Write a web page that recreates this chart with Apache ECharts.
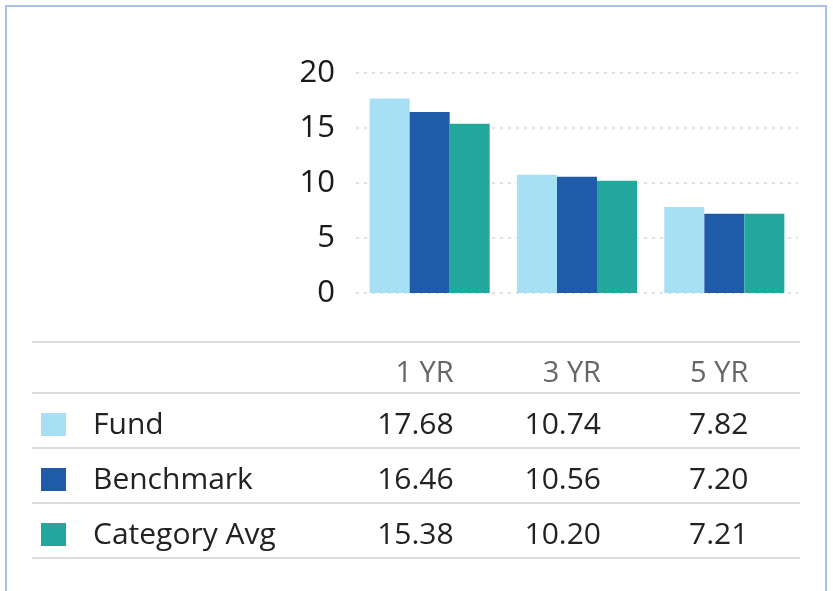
<!DOCTYPE html>
<html><head><meta charset="utf-8">
<script src="https://cdn.jsdelivr.net/npm/echarts@6/dist/echarts.min.js"></script>
<style>html,body{margin:0;padding:0;background:#fff}#c{width:833px;height:591px}</style>
</head><body><div id="c"></div>
<script>
const categories = ['1 YR', '3 YR', '5 YR'];
const seriesNames = ['Fund', 'Benchmark', 'Category Avg'];
const fund = [17.68, 10.74, 7.82];
const benchmark = [16.46, 10.56, 7.20];
const categoryAvg = [15.38, 10.20, 7.21];
const yTicks = [0, 5, 10, 15, 20];
const colors = ['#a7dff5', '#1f5ba8', '#23a79d'];
const FONT = '"Open Sans", sans-serif';

const chart = echarts.init(document.getElementById('c'), null, {renderer: 'canvas'});
const allSeries = [fund, benchmark, categoryAvg];
chart.setOption({
  animation: false,
  grid: {left: 356, right: 35, top: 73, bottom: 298, containLabel: false},
  xAxis: {type: 'category', data: categories, axisLine: {show: false}, axisTick: {show: false}, axisLabel: {show: false}},
  yAxis: {type: 'value', min: yTicks[0], max: yTicks[yTicks.length-1], interval: 5,
    axisLine: {show: false}, axisTick: {show: false},
    axisLabel: {margin: 21, fontSize: 31, color: '#1a1a1a', fontFamily: FONT},
    splitLine: {lineStyle: {color: '#e2e2e2', type: [3, 5], width: 2}}},
  series: allSeries.map((d, i) => ({
    name: seriesNames[i], type: 'bar', data: d, barWidth: 40, barGap: '0%',
    itemStyle: {color: colors[i]}
  }))
});

function buildTable() {
  const g = [];
  g.push({type: 'rect', shape: {x: 6, y: 6, width: 820, height: 700}, style: {fill: 'none', stroke: '#a9c3e8', lineWidth: 2}, silent: true});
  const lineYs = [342, 393, 448, 503, 558];
  lineYs.forEach(y => g.push({type: 'line', shape: {x1: 32, y1: y, x2: 800, y2: y}, style: {stroke: '#dcdcdc', lineWidth: 2}}));
  const colX = categories.map((c, i) => chart.convertToPixel({xAxisIndex: 0}, i) + 24);
  categories.forEach((c, i) => g.push({type: 'text', x: colX[i], y: 374, style: {text: c, fill: '#666', font: '29px ' + FONT, textAlign: 'right', textVerticalAlign: 'middle'}}));
  const rowYs = [425, 480, 535];
  seriesNames.forEach((n, r) => {
    g.push({type: 'rect', shape: {x: 41, y: rowYs[r] - 12, width: 25, height: 23}, style: {fill: colors[r]}});
    g.push({type: 'text', x: 93, y: rowYs[r], style: {text: n, fill: '#222', font: '30px ' + FONT, textVerticalAlign: 'middle'}});
    allSeries[r].forEach((v, i) => g.push({type: 'text', x: colX[i], y: rowYs[r], style: {text: v.toFixed(2), fill: '#222', font: '30px ' + FONT, textAlign: 'right', textVerticalAlign: 'middle'}}));
  });
  chart.setOption({graphic: g});
}
buildTable();
</script></body></html>
